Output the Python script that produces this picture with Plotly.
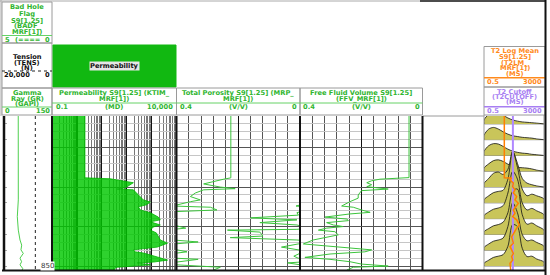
import math
import plotly.graph_objects as go

W, H = 550, 275

# ---------------- data ----------------
DEPTH_RANGE = [851.0, 812.0]

GR_DEPTH = [812, 818, 824, 830, 833.25, 837.5, 840.9, 843.4, 844.7, 845.9, 846.8, 848.0, 848.9, 849.7, 850.6, 851]
GR_VALUES = [44.5, 44.8, 44.3, 44.6, 44.7, 41.6, 44.7, 50, 55.3, 53, 60.3, 50, 55, 50, 58.4, 57]

TENS_DEPTH = [812, 825, 838, 851]
TENS_VALUES = [6950, 6930, 6960, 6940]

PERM_DEPTH = [812, 827.66, 827.9, 828.7, 828.9, 830.2, 830.5, 830.7, 832.0, 833.25, 833.8, 834.5,
              835.0, 835.8, 836.5, 837.6, 838.3, 838.8, 839.6, 840.1, 840.9, 841.6, 843.4, 844.2,
              845.2, 845.9, 846.4, 846.7, 847.7, 848.5, 849.0, 849.2, 849.7, 850.3, 850.8, 851]
PERM_VALUES = [2.1, 2.1, 21.8, 140, 185, 88, 42, 185, 294, 468, 894, 617,
               294, 355, 894, 1860, 2240, 894, 2240, 1175, 894, 1550, 2240, 4370,
               1700, 185, 223, 468, 1700, 4370, 1175, 270, 894, 42, 29, 35]

TPOR_DEPTH = [812, 827.66, 828.0, 828.6, 829.2, 830.0, 830.4, 830.7, 831.5, 832.4, 833.25, 833.7,
              834.5, 834.8, 835.1, 835.8, 836.2, 836.5, 837.1, 837.8, 838.3, 839.0, 839.6, 840.4,
              840.7, 840.9, 841.4, 842.4, 842.8, 843.4, 843.9, 844.4, 845.2, 845.9, 846.4, 846.7,
              847.5, 848.0, 848.3, 849.0, 849.2, 849.7, 850.3, 851]
TPOR_VALUES = [0.224, 0.224, 0.247, 0.28, 0.312, 0.258, 0.21, 0.312, 0.339, 0.355, 0.323, 0.355,
               0.398, 0.413, 0.29, 0.269, 0.398, 0.41, 0.405, 0.56, 0.41, 0.53, 0.41, 0.37,
               0.41, 0.635, 0.53, 0.52, 0.626, 0.41, 0.33, 0.406, 0.46, 0.398, 0.366, 0.398,
               0.42, 0.406, 0.33, 0.40, 0.44, 0.398, 0.258, 0.28]

FFV_DEPTH = [812, 827.6, 828.0, 828.4, 828.9, 829.4, 829.9, 830.5, 830.9, 832.0, 832.8, 833.25,
             833.7, 834.8, 835.1, 835.8, 836.4, 836.8, 837.6, 838.1, 838.5, 839.0, 839.6, 840.0,
             840.4, 840.9, 841.3, 842.1, 842.7, 843.4, 844.4, 844.9, 845.5, 845.9, 846.4, 846.95,
             847.8, 848.3, 848.9, 849.5, 850.0, 850.3, 851]
FFV_VALUES = [0.044, 0.044, 0.139, 0.166, 0.182, 0.166, 0.182, 0.112, 0.199, 0.21, 0.21, 0.226,
              0.237, 0.264, 0.226, 0.199, 0.171, 0.237, 0.318, 0.247, 0.242, 0.313, 0.291, 0.259,
              0.313, 0.34, 0.286, 0.275, 0.313, 0.357, 0.389, 0.313, 0.237, 0.166, 0.188, 0.302,
              0.384, 0.302, 0.237, 0.199, 0.112, 0.226, 0.247]

T2LM_DEPTH = [812, 827.66, 827.7, 828.2, 829.0, 829.9, 830.7, 831.5, 832.4, 833.25, 834.1, 834.9,
              835.8, 836.6, 837.5, 838.3, 839.6, 840.4, 841.7, 842.6, 844.2, 845.1, 845.9, 846.8,
              847.6, 848.5, 849.3, 850.2, 851]
T2LM_VALUES = [9.5, 9.5, 27.6, 21.7, 35.2, 31.9, 44.8, 35.2, 57, 44.8, 72.6, 51.8,
               35.2, 44.8, 31.9, 57, 84, 57, 35.2, 27.6, 35.2, 21.7, 27.6, 35.2,
               27.6, 31.9, 21.7, 24, 24]

T2CUT_DEPTH = [812, 851]
T2CUT_VALUES = [33, 33]

T2_BINS = [0.5, 1, 2, 4, 8, 16, 32, 64, 128, 256, 512, 1024, 3000]
T2_STATIONS = [814, 818, 822, 826, 830, 834, 838, 842, 846, 850]
T2_AMPS = [
    [1.0, 2.4, 3.0, 2.8, 2.2, 1.5, 1.0, 0.7, 0.5, 0.4, 0.3, 0.2, 0.0],
    [1.1, 2.7, 3.1, 2.7, 2.0, 1.4, 1.0, 0.8, 0.6, 0.5, 0.4, 0.2, 0.0],
    [1.0, 2.5, 3.0, 2.9, 2.3, 1.6, 1.1, 0.8, 0.6, 0.5, 0.3, 0.2, 0.0],
    [0.8, 1.9, 2.7, 2.9, 2.5, 1.8, 1.3, 1.0, 0.9, 0.8, 0.6, 0.3, 0.0],
    [0.9, 2.2, 3.5, 3.8, 3.2, 4.5, 9.0, 6.0, 2.2, 1.0, 0.6, 0.3, 0.0],
    [0.8, 1.8, 2.6, 2.9, 3.2, 6.0, 13.0, 9.0, 3.5, 1.8, 2.2, 1.8, 1.0],
    [0.8, 1.7, 2.4, 2.7, 3.3, 6.5, 12.0, 10.0, 4.0, 2.2, 2.6, 2.0, 1.0],
    [0.7, 1.5, 2.2, 2.5, 3.1, 5.5, 11.0, 11.5, 5.0, 2.6, 2.9, 2.2, 1.1],
    [0.7, 1.6, 2.3, 2.6, 3.1, 6.0, 12.0, 9.5, 4.0, 2.4, 2.6, 2.0, 1.0],
    [0.7, 1.5, 2.2, 2.5, 2.9, 5.0, 10.5, 10.0, 4.5, 2.4, 2.5, 1.8, 1.0],
]

GR_RANGE = [0, 150]
TENS_RANGE = [20000, 0]
PERM_RANGE = [0.1, 10000]
POR_RANGE = [0.4, 0]
T2_RANGE = [0.5, 3000]

# ---------------- helpers ----------------
def px(x):
    return x / W


def py(y):
    return 1 - y / H


shapes = []
annotations = []

GREEN_T = "#2fb52f"
ORANGE = "#ff8a1c"
PURPLE = "#a77ef2"
FONT = "DejaVu Sans"


def txt(x, y, s, color, anchor="center", size=6.7, bg=None):
    annotations.append(dict(
        x=px(x), y=py(y), xref="paper", yref="paper", text="<b>" + s + "</b>",
        showarrow=False, xanchor=anchor, yanchor="middle",
        font=dict(family=FONT, size=size, color=color),
        bgcolor=bg, borderpad=0))


def hline(x0, x1, y, color, width=1, dash=None):
    shapes.append(dict(type="line", xref="paper", yref="paper",
                       x0=px(x0), x1=px(x1), y0=py(y), y1=py(y),
                       line=dict(color=color, width=width, dash=dash), layer="above"))


def vline(x, y0, y1, color, width=1):
    shapes.append(dict(type="line", xref="paper", yref="paper",
                       x0=px(x), x1=px(x), y0=py(y0), y1=py(y1),
                       line=dict(color=color, width=width), layer="above"))


def rect(x0, y0, x1, y1, line="#9a9a9a", fill=None, width=1):
    shapes.append(dict(type="rect", xref="paper", yref="paper",
                       x0=px(x0), x1=px(x1), y0=py(y1), y1=py(y0),
                       line=dict(color=line, width=width), fillcolor=fill, layer="above"))


# ---------------- traces ----------------
fig = go.Figure()

fig.add_trace(go.Scatter(x=GR_VALUES, y=GR_DEPTH, xaxis="x", yaxis="y", mode="lines",
                         line=dict(color="#4fcf4f", width=1)))
fig.add_trace(go.Scatter(x=TENS_VALUES, y=TENS_DEPTH, xaxis="x2", yaxis="y", mode="lines",
                         line=dict(color="#222", width=1, dash="dot")))

fig.add_trace(go.Scatter(x=PERM_VALUES + [PERM_RANGE[0], PERM_RANGE[0]],
                         y=PERM_DEPTH + [PERM_DEPTH[-1], PERM_DEPTH[0]],
                         xaxis="x3", yaxis="y2", mode="lines", fill="toself",
                         fillcolor="rgba(0,200,0,0.82)", line=dict(color="#00b400", width=0.8)))

span = POR_RANGE[0] - POR_RANGE[1]
fig.add_trace(go.Scatter(x=TPOR_VALUES, y=TPOR_DEPTH, xaxis="x4", yaxis="y3", mode="lines",
                         line=dict(color="#3cc43c", width=1)))
fig.add_trace(go.Scatter(x=[v - span for v in TPOR_VALUES], y=TPOR_DEPTH, xaxis="x4", yaxis="y3",
                         mode="lines", line=dict(color="#3cc43c", width=1)))

fig.add_trace(go.Scatter(x=FFV_VALUES, y=FFV_DEPTH, xaxis="x5", yaxis="y4", mode="lines",
                         line=dict(color="#3cc43c", width=1)))

for d, amps in zip(T2_STATIONS, T2_AMPS):
    fig.add_trace(go.Scatter(x=[T2_BINS[0], T2_BINS[-1]], y=[d, d], xaxis="x6", yaxis="y5",
                             mode="lines", line=dict(color="#666", width=0.8)))
    xs = [T2_BINS[0]] + T2_BINS + [T2_BINS[-1]]
    ys = [d] + [d - a for a in amps] + [d]
    fig.add_trace(go.Scatter(x=xs, y=ys, xaxis="x6", yaxis="y5", mode="lines",
                             fill="toself", fillcolor="#c9c55a",
                             line=dict(color="#111", width=0.8, shape="spline", smoothing=0.9)))

fig.add_trace(go.Scatter(x=T2CUT_VALUES, y=T2CUT_DEPTH, xaxis="x6", yaxis="y5", mode="lines",
                         line=dict(color="#b088ff", width=2)))
fig.add_trace(go.Scatter(x=T2LM_VALUES, y=T2LM_DEPTH, xaxis="x6", yaxis="y5", mode="lines",
                         line=dict(color="#ff7f00", width=1.5)))

# ---------------- axes ----------------
ydom = [py(270), py(116)]
common_y = dict(domain=ydom, range=DEPTH_RANGE, showticklabels=False, zeroline=False,
                fixedrange=True, showline=False)
grid_y = dict(common_y, showgrid=True, gridcolor="#555", gridwidth=1, tick0=850, dtick=10,
              ticks="", minor=dict(tick0=850, dtick=2, showgrid=True, gridcolor="#c6c6c6", gridwidth=1))

layout = dict(
    width=W, height=H, margin=dict(l=0, r=0, t=0, b=0), autosize=False,
    paper_bgcolor="white", plot_bgcolor="white", showlegend=False, hovermode=False,
    xaxis=dict(domain=[px(4), px(52)], range=GR_RANGE, anchor="y", visible=False),
    xaxis2=dict(domain=[px(4), px(52)], range=TENS_RANGE, anchor="y", overlaying="x", visible=False),
    xaxis3=dict(domain=[px(52), px(176.5)], type="log",
                range=[math.log10(PERM_RANGE[0]), math.log10(PERM_RANGE[1])],
                anchor="y2", showgrid=True, gridcolor="#111", gridwidth=1.2, dtick=1,
                showticklabels=False, ticks="", zeroline=False, showline=False,
                minor=dict(dtick="D1", showgrid=True, gridcolor="#777", gridwidth=1)),
    xaxis4=dict(domain=[px(176.5), px(300)], range=POR_RANGE, anchor="y3", showgrid=True,
                gridcolor="#111", gridwidth=1.4, tick0=0, dtick=0.2, showticklabels=False,
                ticks="", zeroline=False, showline=False,
                minor=dict(dtick=0.04, showgrid=True, gridcolor="#555", gridwidth=1)),
    xaxis5=dict(domain=[px(300), px(422.5)], range=POR_RANGE, anchor="y4", showgrid=True,
                gridcolor="#111", gridwidth=1.4, tick0=0, dtick=0.2, showticklabels=False,
                ticks="", zeroline=False, showline=False,
                minor=dict(dtick=0.04, showgrid=True, gridcolor="#555", gridwidth=1)),
    xaxis6=dict(domain=[px(484), px(544)], type="log",
                range=[math.log10(T2_RANGE[0]), math.log10(T2_RANGE[1])],
                anchor="y5", visible=False),
    yaxis=dict(common_y, anchor="x", showgrid=False, ticks="inside", ticklen=3,
               tickcolor="#aaa", tick0=850, dtick=4),
    yaxis2=dict(grid_y, anchor="x3"),
    yaxis3=dict(grid_y, anchor="x4"),
    yaxis4=dict(grid_y, anchor="x5"),
    yaxis5=dict(common_y, anchor="x6", showgrid=False, ticks=""),
)

# ---------------- header cells ----------------
rect(2, 2, 52, 43)
rect(2, 43, 52, 88)
rect(2, 88, 52, 115)
rect(53, 45, 176, 87, line="#11b811", fill="#11b811")
rect(52, 88, 176.5, 115)
rect(176.5, 88, 300, 115)
rect(300, 88, 422.5, 115)
rect(484, 46.5, 545, 87)
rect(484, 87, 545, 115)
hline(422.5, 484, 116, "#9a9a9a")

hline(2, 52, 35.5, "#66d266")
hline(2, 52, 71, "#222", 1, "dot")
hline(2, 52, 107, "#66d266")
hline(52, 176.5, 103, "#66d266")
hline(176.5, 300, 103, "#66d266")
hline(300, 422.5, 103, "#66d266")
hline(484, 545, 77.7, ORANGE, 1.5)
hline(484, 545, 106.7, PURPLE, 1.5)

# track borders / frame
vline(4, 116, 270, "#111", 2.5)
for xb in (52, 176.5, 300, 422.5):
    vline(xb, 116, 270, "#111", 2)
vline(484, 115, 270, "#999", 1)
vline(544, 115, 270, "#999", 1)
hline(2, 546, 270.5, "#111", 2)
vline(545.5, 0, 275, "#111", 2)
hline(420, 546, 1, "#111", 1.5)
hline(0, 420, 1, "#aaa", 1)
vline(1, 0, 116, "#aaa", 1)

# ---------------- header texts ----------------
for s, yy in [("Bad Hole", 7.5), ("Flag", 14), ("S9[1.25]", 20.5), ("(BADF_", 26.5), ("MRF[1])", 32)]:
    txt(27, yy, s, GREEN_T)
txt(4, 39.5, "5", GREEN_T, "left")
txt(27, 39.5, "(====", GREEN_T)
txt(51, 39.5, "0", GREEN_T, "right")

for s, yy in [("Tension", 57), ("(TENS)", 62.5), ("(N)", 68)]:
    txt(27, yy, s, "#111")
txt(3, 75, "20,000", "#111", "left")
txt(51, 75, "0", "#111", "right")

for s, yy in [("Gamma", 92.5), ("Ray (GR)", 98.5), ("(GAPI)", 104)]:
    txt(27, yy, s, GREEN_T)
txt(4, 111, "0", GREEN_T, "left")
txt(51, 111, "150", GREEN_T, "right")

txt(115, 66, "Permeability", "#111", bg="#e6e6e6")
txt(114, 93, "Permeability S9[1.25] (KTIM_", GREEN_T)
txt(114, 99, "MRF[1])", GREEN_T)
txt(55, 107, "0.1", GREEN_T, "left")
txt(114, 107, "(MD)", GREEN_T)
txt(174, 107, "10,000", GREEN_T, "right")

txt(238, 93, "Total Porosity S9[1.25] (MRP_", GREEN_T)
txt(238, 99, "MRF[1])", GREEN_T)
txt(178.5, 107, "0.4", GREEN_T, "left")
txt(238, 107, "(V/V)", GREEN_T)
txt(298, 107, "0", GREEN_T, "right")

txt(361, 93, "Free Fluid Volume S9[1.25]", GREEN_T)
txt(361, 99, "(FFV_MRF[1])", GREEN_T)
txt(302, 107, "0.4", GREEN_T, "left")
txt(361, 107, "(V/V)", GREEN_T)
txt(421, 107, "0", GREEN_T, "right")

for s, yy in [("T2 Log Mean", 51), ("S9[1.25]", 57), ("(T2LM_", 62.5), ("MRF[1])", 68.3), ("(MS)", 74)]:
    txt(514.5, yy, s, ORANGE)
txt(486, 81.5, "0.5", ORANGE, "left")
txt(543, 81.5, "3000", ORANGE, "right")

for s, yy in [("T2 Cutoff", 91.7), ("(T2CUTOFF)", 96.8), ("(MS)", 101.8)]:
    txt(514.5, yy, s, PURPLE)
txt(486, 110.5, "0.5", PURPLE, "left")
txt(543, 110.5, "3000", PURPLE, "right")

# depth label inside GR track
annotations.append(dict(x=px(40), y=850, xref="paper", yref="y", text="850", showarrow=False,
                        font=dict(family=FONT, size=7, color="#333"), bgcolor="white", borderpad=0))

layout["shapes"] = shapes
layout["annotations"] = annotations
fig.update_layout(**layout)
fig.update_traces(hoverinfo="skip")

fig.write_html("out.html", config={"displayModeBar": False, "staticPlot": True},
               post_script="document.body.style.margin='0';document.body.style.padding='0';")
